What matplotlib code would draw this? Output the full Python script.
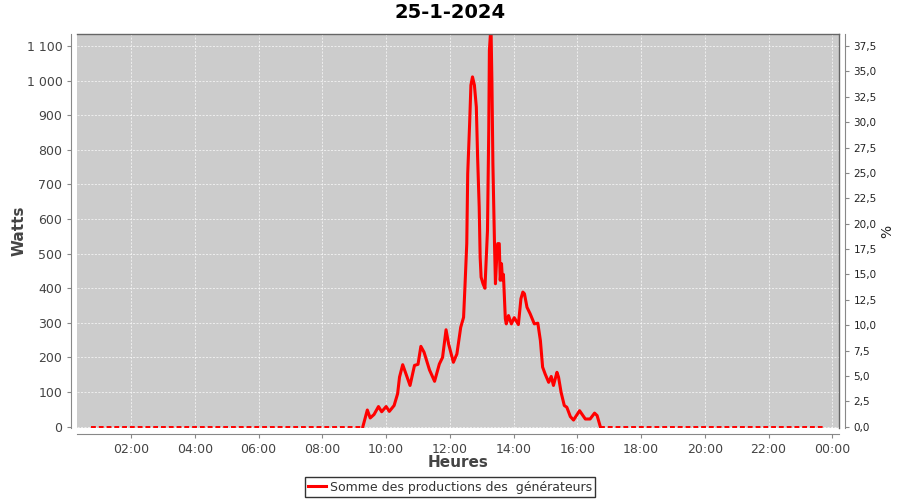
import matplotlib
matplotlib.use("Agg")
import matplotlib.pyplot as plt
from matplotlib.ticker import FixedLocator, FuncFormatter

title = "25-1-2024"
series_label = "Somme des productions des  générateurs"

# daytime production (hours of day, watts)
day_hours = [9.27, 9.41, 9.50, 9.62, 9.76, 9.86, 10.00, 10.10, 10.25, 10.36,
             10.42, 10.52, 10.75, 10.89, 11.00, 11.09, 11.19, 11.36, 11.52, 11.67,
             11.77, 11.88, 11.96, 12.11, 12.22, 12.34, 12.43, 12.47, 12.53, 12.56,
             12.62, 12.66, 12.71, 12.77, 12.83, 12.87, 12.92, 12.95, 12.98, 13.04,
             13.10, 13.18, 13.22, 13.24, 13.29, 13.32, 13.35, 13.40, 13.43, 13.47,
             13.50, 13.55, 13.58, 13.62, 13.65, 13.68, 13.74, 13.77, 13.84, 13.93,
             14.02, 14.15, 14.23, 14.29, 14.34, 14.42, 14.52, 14.65, 14.76, 14.84,
             14.91, 14.99, 15.10, 15.18, 15.25, 15.36, 15.41, 15.49, 15.59, 15.67,
             15.78, 15.88, 16.07, 16.25, 16.40, 16.54, 16.62, 16.72]
day_watts = [0, 48, 25, 35, 58, 43, 58, 44, 61, 95,
             143, 179, 119, 177, 180, 232, 215, 164, 131, 181,
             200, 280, 239, 186, 210, 287, 316, 398, 529, 731,
             876, 987, 1011, 987, 924, 780, 635, 490, 432, 413,
             400, 567, 857, 1088, 1160, 992, 760, 529, 413, 490,
             529, 529, 423, 471, 423, 440, 312, 297, 321, 297,
             315, 295, 370, 389, 384, 345, 326, 297, 299, 249,
             172, 152, 128, 145, 119, 157, 143, 99, 61, 56,
             29, 19, 46, 22, 22, 39, 32, 0]

# night stretches recorded at zero
night_hours = [[0.75, 9.27], [16.72, 23.75]]
night_watts = [[0, 0], [0, 0]]

watt_ticks = list(range(0, 1101, 100))
pct_ticks = [i * 2.5 for i in range(16)]
hour_ticks = list(range(2, 25, 2))
watts_per_pct = 1100 / 37.5

fig = plt.figure(figsize=(9, 5), dpi=100)
ax = fig.add_axes([77 / 900, 1 - 428 / 500, 762 / 900, 394 / 500])
ax.set_facecolor("#cccccc")

ax.plot(day_hours, day_watts, color="#ff0000", lw=2.2, label=series_label)
for h, w in zip(night_hours, night_watts):
    ax.plot(h, w, color="#ff0000", lw=1.4, ls=(0, (2.5, 1.5)))

ax.set_xlim(0.30, 24.21)
ax.set_ylim(-4, 1135)

ax.xaxis.set_major_locator(FixedLocator(hour_ticks))
ax.xaxis.set_major_formatter(FuncFormatter(lambda v, p: f"{int(v) % 24:02d}:00"))
ax.yaxis.set_major_locator(FixedLocator(watt_ticks))
ax.yaxis.set_major_formatter(FuncFormatter(lambda v, p: f"{int(v):,}".replace(",", " ")))

ax.grid(True, color="white", ls=(0, (3, 2)), lw=0.5, alpha=0.9)
ax.set_axisbelow(True)

for s in ["top", "right"]:
    ax.spines[s].set_color("#666666")
    ax.spines[s].set_linewidth(1)
for s in ["left", "bottom"]:
    ax.spines[s].set_position(("outward", 4))
    ax.spines[s].set_color("#888888")

ax.tick_params(axis="both", labelsize=9, colors="#888888", labelcolor="#444444",
               length=3)

ax.set_xlabel("Heures", fontsize=11, fontweight="bold", color="#444444")
ax.xaxis.set_label_coords(0.5, -(455 - 428) / 394)
ax.set_ylabel("Watts", fontsize=11, fontweight="bold", color="#444444")
ax.yaxis.set_label_coords((27 - 77) / 762, 0.5)

ax2 = ax.twinx()
ax2.set_ylim(-4 / watts_per_pct, 1135 / watts_per_pct)
ax2.yaxis.set_major_locator(FixedLocator(pct_ticks))
ax2.yaxis.set_major_formatter(FuncFormatter(lambda v, p: f"{v:.1f}".replace(".", ",")))
ax2.spines["right"].set_position(("outward", 4))
ax2.spines["right"].set_color("#888888")
for s in ["left", "top", "bottom"]:
    ax2.spines[s].set_visible(False)
ax2.tick_params(axis="y", labelsize=7.5, colors="#888888", labelcolor="#222222",
                length=3)
ax2.set_ylabel("%", fontsize=10, color="#222222")
ax2.yaxis.set_label_coords(1 + (880 - 839) / 762, 0.5)

fig.text(0.5, 1 - 13 / 500, title, ha="center", va="center", fontsize=14,
         fontweight="bold")

leg = fig.legend(loc="center", bbox_to_anchor=(0.5, 1 - 487 / 500), fontsize=9,
                 frameon=True, fancybox=False, edgecolor="black",
                 handlelength=1.5, handletextpad=0.3, borderpad=0.25,
                 borderaxespad=0)
leg.get_frame().set_linewidth(1)
for t in leg.get_texts():
    t.set_color("#333333")

fig.savefig("out.png", dpi=100)
